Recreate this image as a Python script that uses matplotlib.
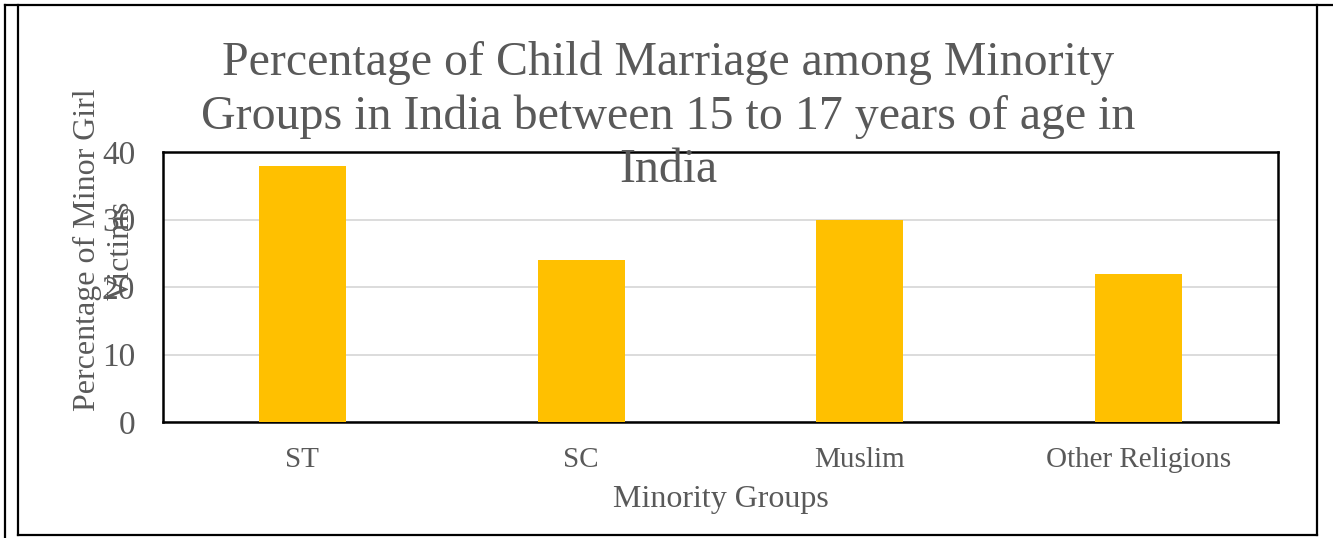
import matplotlib.pyplot as plt
from matplotlib.lines import Line2D
import numpy as np

groups = ['ST', 'SC', 'Muslim', 'Other Religions']
percent = [38, 24, 30, 22]
yticks = [0, 10, 20, 30, 40]

plt.rcParams['font.family'] = ['Liberation Serif', 'DejaVu Serif']
W, H = 1333, 538
fig = plt.figure(figsize=(W / 100, H / 100), dpi=100)

def fx(px):
    return px / W

def fy(py):
    return 1 - py / H

ax = fig.add_axes([fx(163), fy(422), fx(1278) - fx(163), fy(152) - fy(422)])
x = np.arange(len(groups))
ax.bar(x, percent, width=0.312, color='#ffc000', zorder=3)
ax.set_xlim(-0.5, len(groups) - 0.5)
ax.set_ylim(0, 40)
ax.set_yticks(yticks)
ax.set_xticks(x)
ax.set_xticklabels(groups)
ax.tick_params(axis='both', length=0, colors='#595959')
ax.tick_params(axis='y', labelsize=24, pad=20)
ax.tick_params(axis='x', labelsize=21, pad=18)
ax.grid(axis='y', color='#d9d9d9', linewidth=1.3, zorder=0)
for s in ax.spines.values():
    s.set_color('black')
    s.set_linewidth(1.8)

ax.set_xlabel('Minority Groups', fontsize=23, color='#595959', labelpad=9)
fig.text(fx(104), fy(250), 'Percentage of Minor Girl\nVictims', rotation=90,
         ha='center', va='center', fontsize=23, color='#595959', linespacing=1.2)

fig.text(fx(668), fy(116),
         'Percentage of Child Marriage among Minority\nGroups in India between 15 to 17 years of age in\nIndia',
         ha='center', va='center', fontsize=34.5, color='#595959', linespacing=1.27)

# frame lines around the chart
kw = dict(color='black', linewidth=1.6, transform=fig.transFigure)
fig.add_artist(Line2D([fx(5), fx(5)], [0, fy(5)], **kw))
fig.add_artist(Line2D([fx(5), 1], [fy(5), fy(5)], **kw))
fig.add_artist(Line2D([fx(18), fx(18)], [fy(535), fy(5)], **kw))
fig.add_artist(Line2D([fx(1317), fx(1317)], [fy(535), fy(5)], **kw))
fig.add_artist(Line2D([fx(18), fx(1317)], [fy(535), fy(535)], **kw))

fig.savefig('out.png', dpi=100)
